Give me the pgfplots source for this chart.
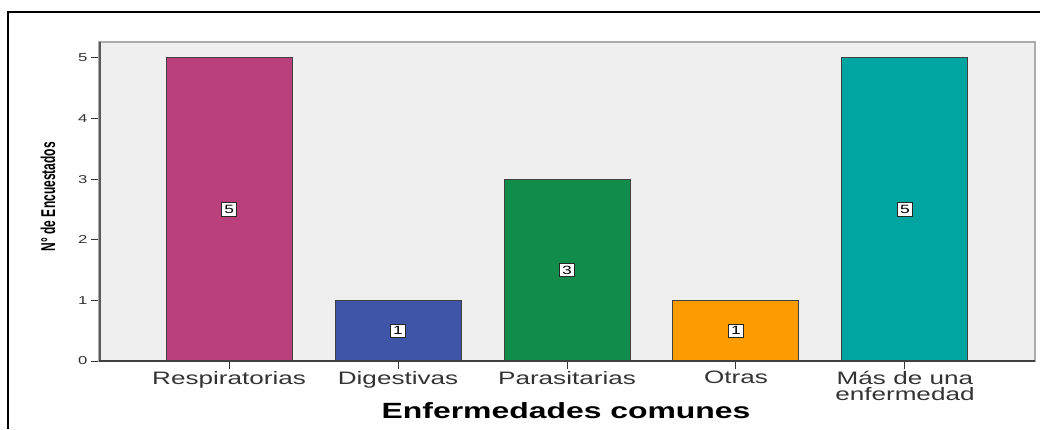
\documentclass[border=0pt]{standalone}
\usepackage{fontspec}
\setmainfont{Liberation Sans}
\newfontfamily\wide[FakeStretch=1.45]{Liberation Sans}
\newfontfamily\narrow[FakeStretch=0.6]{Liberation Sans}
\usepackage{pgfplots}
\pgfplotsset{compat=1.18}
\definecolor{cMag}{RGB}{185,64,122}
\definecolor{cBlue}{RGB}{63,85,168}
\definecolor{cGreen}{RGB}{17,140,75}
\definecolor{cOrange}{RGB}{250,155,0}
\definecolor{cTeal}{RGB}{0,165,162}
\definecolor{bg}{RGB}{239,239,239}
\begin{document}
\begin{tikzpicture}
\useasboundingbox (0,0) rectangle (1040pt,429pt);
\draw[line width=1.8pt, black] (8pt,0pt) -- (8pt,417pt) -- (1040pt,417pt);
\begin{axis}[
  at={(99pt,68pt)}, anchor=south west,
  scale only axis, width=936pt, height=319pt,
  xmin=-0.77, xmax=4.77, ymin=0, ymax=5.26,
  axis background/.style={fill=bg},
  axis line style={draw=gray!65, line width=1.2pt},
  xtick={0,1,2,3,4},
  xticklabels={Respiratorias,Digestivas,Parasitarias,Otras,{Más de una\\enfermedad}},
  xticklabel style={font=\wide\fontsize{18}{16}\selectfont, text=black!80, align=center, anchor=north, yshift=1.5pt},
  ytick={0,1,2,3,4,5},
  yticklabel style={font=\wide\fontsize{11.5}{12}\selectfont, text=black!80},
  /pgf/number format/assume math mode=true,
  tick align=outside, xtick pos=bottom, ytick pos=left,
  major tick length=8pt,
  tick style={draw=black!80, line width=1pt},
  xlabel={\wide\bfseries\fontsize{22}{24}\selectfont Enfermedades comunes},
  xlabel style={at={(axis description cs:0.499,-0.157)}, anchor=center},
  ylabel={\narrow\bfseries\fontsize{20}{20}\selectfont N° de Encuestados},
  ylabel style={at={(axis description cs:-0.0545,0.515)}, anchor=center},
  mybar/.style={ybar, bar width=126pt, bar shift=0pt, draw=black!75, line width=1pt},
  every node near coord/.style={anchor=center, fill=white, draw=black!85, line width=0.9pt, inner xsep=3pt, inner ysep=2.5pt, font=\wide\fontsize{12}{12}\selectfont},
]
\addplot[mybar, fill=cMag] coordinates {(0,5)};
\addplot[mybar, fill=cBlue] coordinates {(1,1)};
\addplot[mybar, fill=cGreen] coordinates {(2,3)};
\addplot[mybar, fill=cOrange] coordinates {(3,1)};
\addplot[mybar, fill=cTeal] coordinates {(4,5)};
\addplot[draw=none, mark=none, nodes near coords, point meta=explicit symbolic] table[meta=v] {
x y v
0 2.5 5
1 0.5 1
2 1.5 3
3 0.5 1
4 2.5 5
};
\draw[line width=3pt, black!65] (rel axis cs:0,1) -- (rel axis cs:0,0);
\draw[line width=1.6pt, black!75] (rel axis cs:0,0) -- (rel axis cs:1,0);
\end{axis}
\end{tikzpicture}
\end{document}
